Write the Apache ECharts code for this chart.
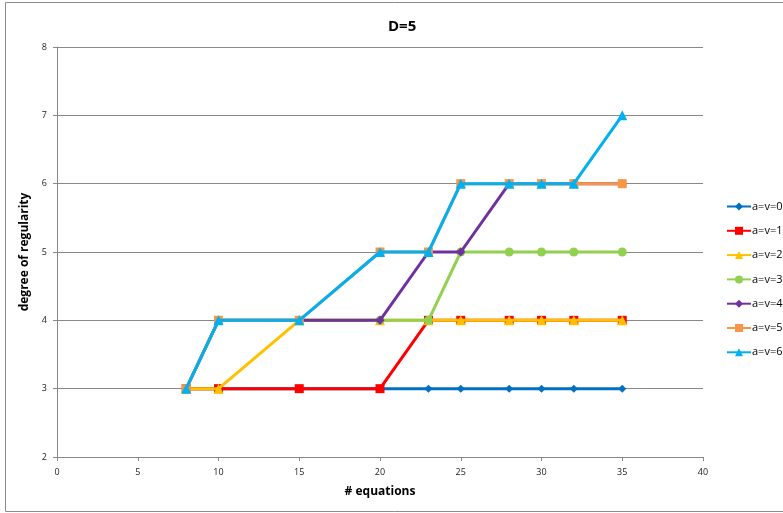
<!DOCTYPE html>
<html>
<head>
<meta charset="utf-8">
<script src="https://cdn.jsdelivr.net/npm/echarts@6/dist/echarts.min.js"></script>
<style>
html,body{margin:0;padding:0;background:#fff;}
#chart{width:783px;height:513px;}
</style>
</head>
<body>
<div id="chart"></div>
<script>
var equations = [8, 10, 15, 20, 23, 25, 28, 30, 32, 35];
var av0 = [3, 3, 3, 3, 3, 3, 3, 3, 3, 3];
var av1 = [3, 3, 3, 3, 4, 4, 4, 4, 4, 4];
var av2 = [3, 3, 4, 4, 4, 4, 4, 4, 4, 4];
var av3 = [3, 4, 4, 4, 4, 5, 5, 5, 5, 5];
var av4 = [3, 4, 4, 4, 5, 5, 6, 6, 6, 6];
var av5 = [3, 4, 4, 5, 5, 6, 6, 6, 6, 6];
var av6 = [3, 4, 4, 5, 5, 6, 6, 6, 6, 7];
var seriesNames = ['a=v=0', 'a=v=1', 'a=v=2', 'a=v=3', 'a=v=4', 'a=v=5', 'a=v=6'];
var seriesValues = [av0, av1, av2, av3, av4, av5, av6];
var colors = ['#0070C0', '#FF0000', '#FFC000', '#92D050', '#7030A0', '#F79646', '#00B0F0'];
var symbols = ['diamond', 'rect', 'triangle', 'circle', 'diamond', 'rect', 'triangle'];
var symbolSizes = [8, 9, 10, 9, 9, 9, 10];

function pairs(vals) {
  return equations.map(function (x, i) { return [x, vals[i]]; });
}

var chart = echarts.init(document.getElementById('chart'));
var font = '"Open Sans", "Liberation Sans", sans-serif';
chart.setOption({
  animation: false,
  backgroundColor: '#fff',
  graphic: [{
    type: 'rect',
    shape: {x: 5.5, y: 2.5, width: 800, height: 509},
    style: {fill: 'none', stroke: '#8c8c8c', lineWidth: 1},
    silent: true, z: -1
  }],
  title: {
    text: 'D=5',
    left: 383,
    top: 14,
    textStyle: {fontFamily: font, fontSize: 15, fontWeight: 'bold', color: '#000'}
  },
  legend: {
    orient: 'vertical',
    left: 721,
    top: 196,
    itemWidth: 24,
    itemHeight: 10,
    itemGap: 13.3,
    data: seriesNames,
    textStyle: {fontFamily: font, fontSize: 11, color: '#000', padding: [0, 0, 0, -4]}
  },
  grid: {left: 57, right: 80, top: 47, bottom: 56, containLabel: false},
  xAxis: {
    type: 'value',
    min: 0, max: 40, interval: 5,
    name: '# equations',
    nameLocation: 'middle',
    nameGap: 29,
    nameTextStyle: {fontFamily: font, fontSize: 12, fontWeight: 'bold', color: '#000'},
    axisLine: {show: true, onZero: false, lineStyle: {color: '#888', width: 1}},
    axisTick: {show: true, length: 4, lineStyle: {color: '#888'}},
    axisLabel: {fontFamily: font, fontSize: 9, color: '#222', margin: 11},
    splitLine: {show: false}
  },
  yAxis: {
    type: 'value',
    min: 2, max: 8, interval: 1,
    name: 'degree of regularity',
    nameLocation: 'middle',
    nameGap: 18,
    nameTextStyle: {fontFamily: font, fontSize: 12, fontWeight: 'bold', color: '#000'},
    axisLine: {show: true, lineStyle: {color: '#888', width: 1}},
    axisTick: {show: true, length: 4, lineStyle: {color: '#888'}},
    axisLabel: {fontFamily: font, fontSize: 9, color: '#222', margin: 10},
    splitLine: {show: true, lineStyle: {color: '#888', width: 1}}
  },
  series: seriesNames.map(function (n, i) {
    return {
      name: n,
      type: 'line',
      data: pairs(seriesValues[i]),
      symbol: symbols[i],
      symbolSize: symbolSizes[i],
      showAllSymbol: true,
      color: colors[i],
      lineStyle: {width: 3, color: colors[i]},
      itemStyle: {color: colors[i]},
      z: 2 + i
    };
  })
});
</script>
</body>
</html>
